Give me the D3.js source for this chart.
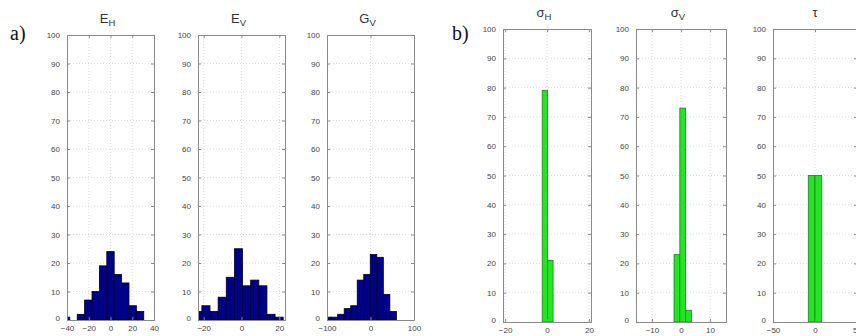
<!DOCTYPE html>
<html>
<head>
<meta charset="utf-8">
<script src="https://cdn.jsdelivr.net/npm/d3@7"></script>
<style>
  html, body { margin: 0; padding: 0; background: #fff; }
  svg { display: block; }
</style>
</head>
<body>
<svg id="chart" width="856" height="336"></svg>
<script>
// ---------- DATA ----------
const yTicks = [0, 10, 20, 30, 40, 50, 60, 70, 80, 90, 100];

// a) E_H
const ehCenters = [-40.8, -34, -27.2, -20.4, -13.6, -6.8, 0, 6.8, 13.6, 20.4, 27.2];
const ehCounts  = [1, 0, 2, 7, 10, 19, 24, 16, 13, 5, 3];
const ehXTicks  = [-40, -20, 0, 20, 40];

// a) E_V
const evCenters = [-23.1, -18.8, -14.5, -10.2, -5.9, -1.6, 2.7, 7.0, 11.3, 15.6, 19.9];
const evCounts  = [3, 5, 3, 8, 15, 25, 12, 14, 12, 2, 1];
const evXTicks  = [-20, 0, 20];

// a) G_V
const gvCenters = [-98, -83, -68, -53, -38, -23, -8, 7, 22, 37, 52];
const gvCounts  = [1, 1, 2, 4, 5, 14, 16, 23, 22, 9, 3];
const gvXTicks  = [-100, 0, 100];

// b) sigma_H
const shCenters = [-1.0, 1.6];
const shCounts  = [79, 21];
const shXTicks  = [-20, 0, 20];

// b) sigma_V
const svCenters = [-1.4, 0.6, 2.6];
const svCounts  = [23, 73, 4];
const svXTicks  = [-10, 0, 10];

// b) tau
const tauCenters = [-4, 4];
const tauCounts  = [50, 50];
const tauXTicks  = [-50, 0, 50];

// ---------- LAYOUT ----------
const svg = d3.select("#chart");
const FONT = "'Liberation Sans', Arial, Helvetica, sans-serif";

const panels = [
  { main: "E", sub: "H", centers: ehCenters, counts: ehCounts, width: 6.8, xlim: [-40, 40], ticks: ehXTicks,
    box: [67, 154, 35, 320], fill: "#000088", stroke: "#000022" },
  { main: "E", sub: "V", centers: evCenters, counts: evCounts, width: 4.3, xlim: [-23, 23], ticks: evXTicks,
    box: [198, 285, 35, 320], fill: "#000088", stroke: "#000022" },
  { main: "G", sub: "V", centers: gvCenters, counts: gvCounts, width: 15, xlim: [-100, 100], ticks: gvXTicks,
    box: [327, 414, 35, 320], fill: "#000088", stroke: "#000022" },
  { main: "\u03C3", sub: "H", centers: shCenters, counts: shCounts, width: 2.6, xlim: [-21, 21], ticks: shXTicks,
    box: [503, 591, 29, 322], fill: "#22e622", stroke: "#2a7a2a" },
  { main: "\u03C3", sub: "V", centers: svCenters, counts: svCounts, width: 2.0, xlim: [-15.5, 15.5], ticks: svXTicks,
    box: [636, 726, 29, 322], fill: "#22e622", stroke: "#2a7a2a" },
  { main: "\u03C4", sub: "", centers: tauCenters, counts: tauCounts, width: 8, xlim: [-50, 50], ticks: tauXTicks,
    box: [773, 857, 29, 322], fill: "#22e622", stroke: "#2a7a2a" }
];

const defs = svg.append("defs");

panels.forEach((p, i) => {
  const [x0, x1, y0, y1] = p.box;
  const x = d3.scaleLinear().domain(p.xlim).range([x0, x1]);
  const y = d3.scaleLinear().domain([0, 100]).range([y1, y0]);
  const g = svg.append("g");

  // clip
  defs.append("clipPath").attr("id", "clip" + i)
    .append("rect").attr("x", x0).attr("y", y0).attr("width", x1 - x0).attr("height", y1 - y0);

  // background
  g.append("rect").attr("x", x0).attr("y", y0).attr("width", x1 - x0).attr("height", y1 - y0)
    .attr("fill", "#fff");

  // grid
  const grid = g.append("g").attr("stroke", "#cfcfcf").attr("stroke-width", 0.7)
    .attr("stroke-dasharray", "1,2");
  grid.selectAll("line.gy").data(yTicks.slice(1, -1)).join("line")
    .attr("x1", x0).attr("x2", x1).attr("y1", d => y(d)).attr("y2", d => y(d));
  grid.selectAll("line.gx").data(p.ticks.filter(t => x(t) > x0 + 1 && x(t) < x1 - 1)).join("line")
    .attr("y1", y0).attr("y2", y1).attr("x1", d => x(d)).attr("x2", d => x(d));

  // bars
  const data = p.centers.map((c, k) => ({ c: c, v: p.counts[k] }));
  g.append("g").attr("clip-path", `url(#clip${i})`)
    .selectAll("rect").data(data.filter(d => d.v > 0)).join("rect")
    .attr("x", d => x(d.c - p.width / 2))
    .attr("width", d => x(d.c + p.width / 2) - x(d.c - p.width / 2))
    .attr("y", d => y(d.v))
    .attr("height", d => y(0) - y(d.v))
    .attr("fill", p.fill)
    .attr("stroke", p.stroke)
    .attr("stroke-width", 0.8);

  // axes (Matlab-like inward ticks)
  const axB = d3.axisBottom(x).tickValues(p.ticks).tickSize(-3).tickPadding(5).tickFormat(d3.format("d"));
  const axT = d3.axisTop(x).tickValues(p.ticks).tickSize(-3).tickFormat("");
  const axL = d3.axisLeft(y).tickValues(yTicks).tickSize(-3).tickPadding(7).tickFormat(d3.format("d"));
  const axR = d3.axisRight(y).tickValues(yTicks).tickSize(-3).tickFormat("");

  const styleAxis = sel => {
    sel.select(".domain").attr("stroke", "#8a8a8a");
    sel.selectAll(".tick line").attr("stroke", "#8a8a8a");
    sel.selectAll(".tick text").attr("fill", "#444").style("font-family", FONT).style("font-size", "8px");
  };
  g.append("g").attr("transform", `translate(0,${y1})`).call(axB).call(styleAxis);
  g.append("g").attr("transform", `translate(0,${y0})`).call(axT).call(styleAxis);
  const gl = g.append("g").attr("transform", `translate(${x0},0)`).call(axL).call(styleAxis);
  gl.selectAll(".tick text").filter(d => d === 0).attr("dy", "0.1em");
  g.append("g").attr("transform", `translate(${x1},0)`).call(axR).call(styleAxis);

  // title
  const t = g.append("text")
    .attr("x", (x0 + x1) / 2 - (p.sub ? 3 : 0))
    .attr("y", y0 - 12)
    .attr("text-anchor", "middle")
    .attr("fill", "#333")
    .style("font-family", FONT)
    .style("font-size", "13px");
  t.append("tspan").text(p.main);
  if (p.sub) {
    t.append("tspan").attr("dy", 3).style("font-size", "9.5px").text(p.sub);
  }
});

// panel labels
svg.append("text").attr("x", 10).attr("y", 40).text("a)")
  .style("font-family", "'Liberation Serif', 'Times New Roman', serif").style("font-size", "20px").attr("fill", "#111");
svg.append("text").attr("x", 452).attr("y", 40).text("b)")
  .style("font-family", "'Liberation Serif', 'Times New Roman', serif").style("font-size", "20px").attr("fill", "#111");
</script>
</body>
</html>
